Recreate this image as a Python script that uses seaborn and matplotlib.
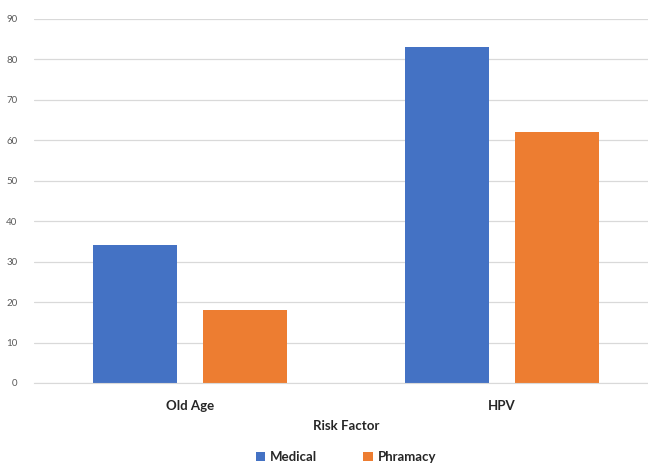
import pandas as pd
import matplotlib.pyplot as plt
import seaborn as sns

# data
categories = ['Old Age', 'HPV']
medical = [34, 83]
pharmacy = [18, 62]
series_names = ['Medical', 'Phramacy']
colors = ['#4472C4', '#ED7D31']

df = pd.DataFrame({
    'Risk Factor': categories * 2,
    'Group': [series_names[0]] * 2 + [series_names[1]] * 2,
    'Value': medical + pharmacy,
})

sns.set_style('white')
plt.rcParams['font.family'] = ['Lato', 'DejaVu Sans']

fig = plt.figure(figsize=(6.48, 4.63), dpi=100)
ax = fig.add_axes([34 / 648, 80 / 463, 624 / 648, 364 / 463])

sns.barplot(data=df, x='Risk Factor', y='Value', hue='Group', order=categories,
            hue_order=series_names, palette=colors, width=0.705, gap=0.236,
            saturation=1, linewidth=0, ax=ax, legend=True)

ax.set_xlim(-0.5, 1.5)
ax.set_ylim(0, 90)
ax.set_yticks(range(0, 91, 10))
ax.yaxis.grid(True, color='#D9D9D9', linewidth=0.9)
ax.set_axisbelow(True)
for s in ['top', 'right', 'left']:
    ax.spines[s].set_visible(False)
ax.spines['bottom'].set_color('#D9D9D9')
ax.tick_params(axis='y', length=0, labelsize=7, labelcolor='#595959', pad=12)
ax.tick_params(axis='x', length=0, labelsize=9.5, pad=12)
for lbl in ax.get_xticklabels():
    lbl.set_fontweight('bold')
ax.set_ylabel('')
ax.set_xlabel('Risk Factor', fontsize=9.5, fontweight='bold', labelpad=6)

ax.legend(loc='center', bbox_to_anchor=(0.5, -0.204),
          ncol=2, frameon=False, handlelength=0.7, handleheight=0.7,
          columnspacing=3.5, handletextpad=0.4, prop={'weight': 'bold', 'size': 9.5})

fig.savefig('out.png', dpi=100)
